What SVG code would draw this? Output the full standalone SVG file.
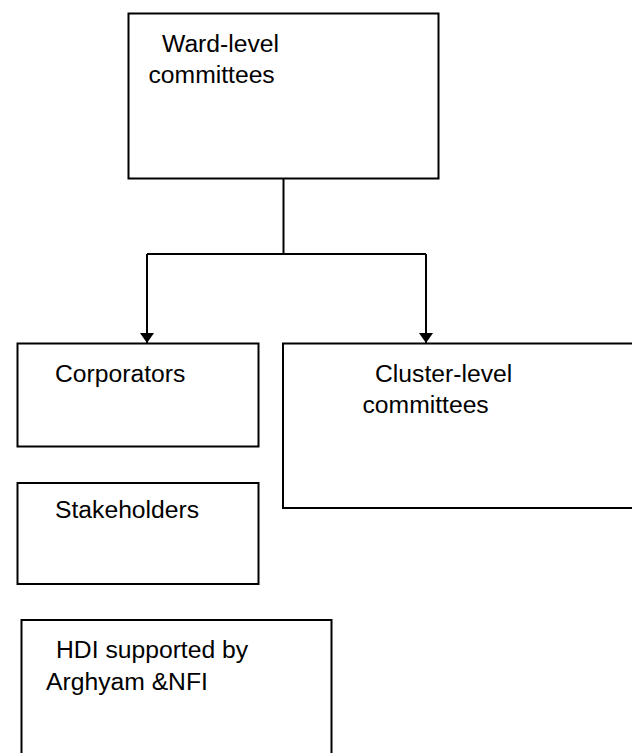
<svg xmlns="http://www.w3.org/2000/svg" width="632" height="753" viewBox="0 0 632 753">
  <style>
    .box { fill: #ffffff; stroke: #000000; stroke-width: 2; }
    .lbl { font-family: "Liberation Sans", Arial, sans-serif; font-size: 24.7px; fill: #000000; }
    .wire { fill: none; stroke: #000000; stroke-width: 2; }
  </style>
  <defs>
    <marker id="arr" viewBox="0 0 10 14" refX="10" refY="7" markerWidth="10" markerHeight="14" markerUnits="userSpaceOnUse" orient="auto">
      <path d="M0,0 L10,7 L0,14 z" fill="#000000"/>
    </marker>
  </defs>
  <rect width="632" height="753" fill="#ffffff"/>

  <g id="connectors">
    <path class="wire" d="M283.5,178 V254"/>
    <path class="wire" d="M147,254 H426"/>
    <path class="wire" d="M147,254 V343" marker-end="url(#arr)"/>
    <path class="wire" d="M426,254 V343" marker-end="url(#arr)"/>
  </g>

  <g id="ward">
    <rect class="box" x="128.5" y="13.5" width="310" height="165"/>
    <text class="lbl" x="162" y="52">Ward-level</text>
    <text class="lbl" x="148.5" y="83">committees</text>
  </g>

  <g id="corporators">
    <rect class="box" x="17.5" y="343.5" width="241" height="103"/>
    <text class="lbl" x="55" y="382">Corporators</text>
  </g>

  <g id="cluster">
    <rect class="box" x="283" y="343.5" width="360" height="164.5"/>
    <text class="lbl" x="375" y="382">Cluster-level</text>
    <text class="lbl" x="362.5" y="413">committees</text>
  </g>

  <g id="stakeholders">
    <rect class="box" x="17.5" y="483" width="241" height="101"/>
    <text class="lbl" x="55" y="518">Stakeholders</text>
  </g>

  <g id="hdi">
    <rect class="box" x="21.5" y="620" width="310" height="150"/>
    <text class="lbl" x="56" y="658">HDI supported by</text>
    <text class="lbl" x="46" y="690">Arghyam &amp;NFI</text>
  </g>
</svg>
